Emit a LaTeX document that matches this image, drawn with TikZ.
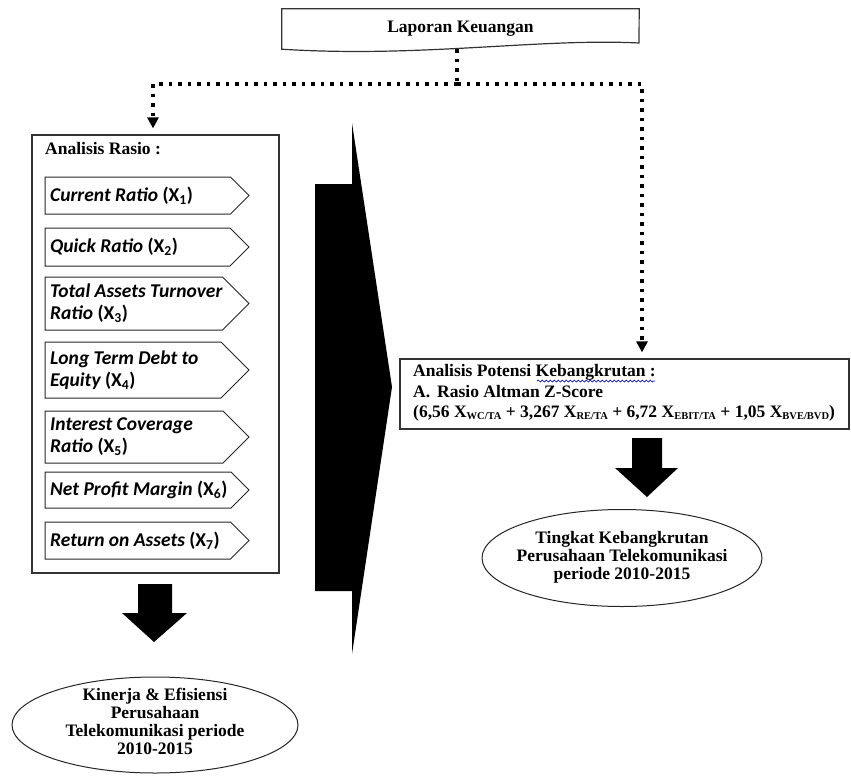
\documentclass[tikz,border=0pt]{standalone}
\usepackage{fontspec}
\setmainfont{Liberation Serif}
\newfontfamily\calib{Carlito}
\usetikzlibrary{arrows.meta,shapes.geometric,decorations.pathmorphing}
\newcommand{\Xs}[1]{X\raisebox{-1.5pt}{\fontsize{10.5}{10.5}\selectfont #1}}
\newcommand{\ratiobox}[4]{%
  \draw[ratioline] (45,#2) -- ({249-(#3-#2)/2},#2) -- (249,{(#2+#3)/2})
        -- ({249-(#3-#2)/2},#3) -- (45,#3) -- cycle;
  \node[ratiotext] (#1) at (50,{(#2+#3)/2}) {#4};}

\begin{document}
\begin{tikzpicture}[x=1pt,y=-1pt,
    every node/.style={font=\fontsize{17.5}{18}\selectfont\bfseries},
    boxline/.style={draw=black!80,line width=1.2pt},
    ratioline/.style={draw=black!85,line width=1pt},
    ratiotext/.style={anchor=west,align=left,inner sep=0pt,
                      font=\fontsize{19.5}{22}\selectfont\calib\bfseries},
    oval/.style={ellipse,draw=black!85,line width=1pt},
    dotline/.style={line width=3.5pt,dash pattern=on 3.5pt off 6pt},
    dottip/.style={-{Triangle[width=11pt,length=11pt]},shorten >=6pt}]
     \useasboundingbox (0,0) rectangle (851,776);
     % source document
     \node[minimum width=357pt,minimum height=40pt] (lap) at (460.5,29) {\raisebox{4pt}{Laporan Keuangan}};
     \draw[boxline] (lap.north west) -- (lap.north east) -- (639,43)
           .. controls (540,38) and (420,58) .. (lap.south west) -- cycle;
     \coordinate (hub)   at (457,84);
     \coordinate (ldrop) at (153,84);
     \coordinate (rdrop) at (642,84);
     % left column
     \node[boxline,minimum width=247pt,minimum height=438pt] (rasio) at (155.5,354) {};
     \node[anchor=west,inner sep=0pt] (rasiotitle) at (45,149) {Analisis Rasio :};
     \ratiobox{cr}{177}{214}{{\itshape Current Ratio} (X\textsubscript{1})}
     \ratiobox{qr}{228}{266}{{\itshape Quick Ratio} (X\textsubscript{2})}
     \ratiobox{tat}{277}{330}{{\itshape Total Assets Turnover}\\{\itshape Ratio} (X\textsubscript{3})}
     \ratiobox{lde}{342}{398}{{\itshape Long Term Debt to}\\{\itshape Equity} (X\textsubscript{4})}
     \ratiobox{icr}{411}{463}{{\itshape Interest Coverage}\\{\itshape Ratio} (X\textsubscript{5})}
     \ratiobox{npm}{472}{508}{{\itshape Net Profit Margin} (X\textsubscript{6})}
     \ratiobox{roa}{522}{559}{{\itshape Return on Assets} (X\textsubscript{7})}
     % right column
     \node[boxline,minimum width=449pt,minimum height=70pt] (potensi) at (624.5,394) {};
     \node[anchor=west,align=left,inner sep=0pt,font=\fontsize{17.5}{20.5}\selectfont\bfseries]
           (potensitext) at (413,393)
           {Analisis Potensi Kebangkrutan :\\
            A.\hspace{7pt}Rasio Altman Z-Score\\
            (6,56 \Xs{WC/TA} + 3,267 \Xs{RE/TA} + 6,72 \Xs{EBIT/TA} + 1,05 \Xs{BVE/BVD})};
     \draw[blue!70!black,line width=0.7pt,decorate,
           decoration={snake,amplitude=1pt,segment length=4pt}] (537,381) -- (655,381);
     % results
     \node[oval,minimum width=286pt,minimum height=96pt] (kinerja) at (155,725) {};
     \node[align=center] (kinerjatext) at (155,721)
           {Kinerja \& Efisiensi\\ Perusahaan\\ Telekomunikasi periode\\ 2010-2015};
     \node[oval,minimum width=280pt,minimum height=97pt] (tingkat) at (622,558) {};
     \node[align=center] (tingkattext) at (622,557)
           {Tingkat Kebangkrutan\\ Perusahaan Telekomunikasi\\ periode 2010-2015};
     % dotted connectors
     \draw[dotline] (lap.south -| hub) -- (hub);
     \draw[dotline,dottip] (hub) -- (ldrop) -- (ldrop |- rasio.north);
     \draw[dotline,dottip] (hub) -- (rdrop) -- (rdrop |- potensi.north);
     % block arrows
     \fill (315,184) -- (352,184) -- (352,123) -- (392,387) -- (352,654) -- (352,591) -- (315,591) -- cycle;
     \fill (138,584) -- (172,584) -- (172,613) -- (187,613) -- (154,642) -- (122,613) -- (138,613) -- cycle;
     \fill (632,438) -- (662,438) -- (662,468) -- (678,468) -- (647,497) -- (615,468) -- (632,468) -- cycle;
\end{tikzpicture}
\end{document}
